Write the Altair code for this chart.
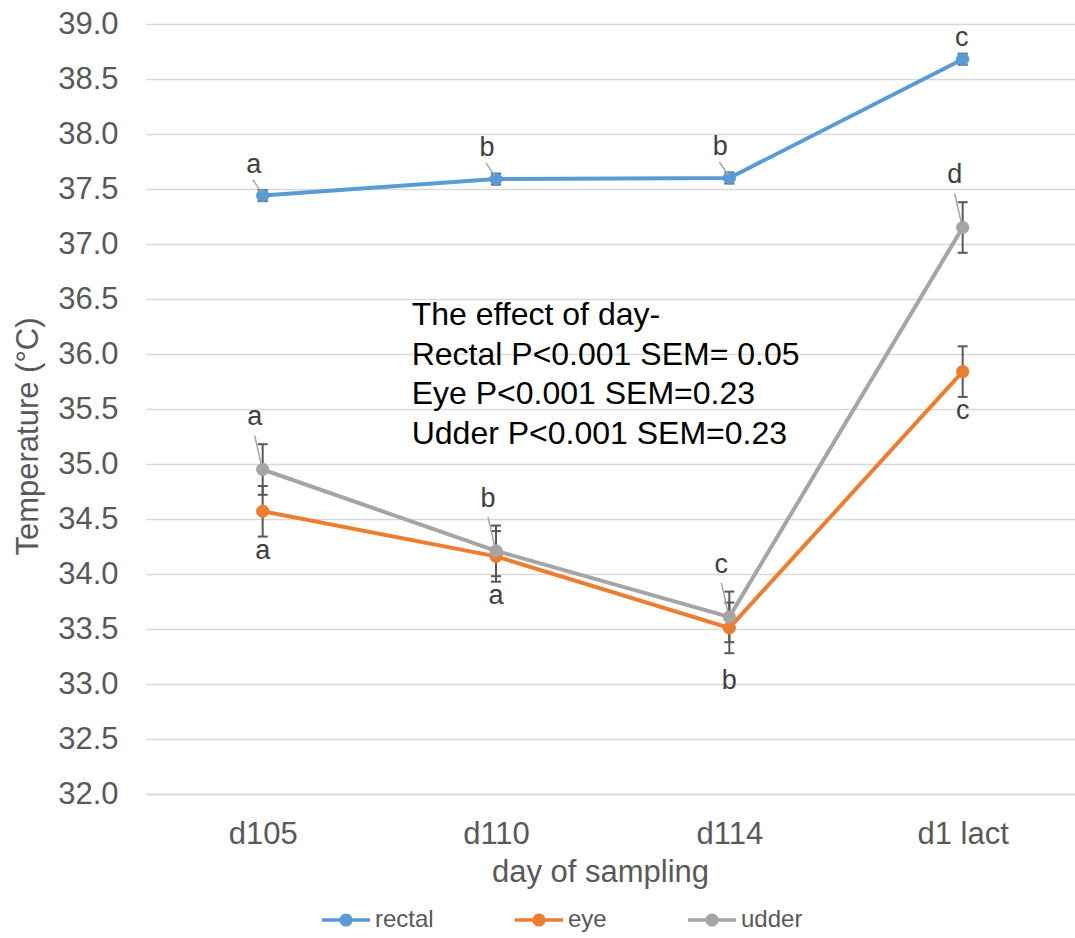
import altair as alt
import pandas as pd

# Sampling days and the three measurement sites
days = ["d105", "d110", "d114", "d1 lact"]
series_names = ["rectal", "eye", "udder"]
series_colors = ["#5B9BD5", "#ED7D31", "#A5A5A5"]

# Mean temperatures (°C)
rectal = [37.44, 37.59, 37.60, 38.68]
eye = [34.57, 34.16, 33.51, 35.84]
udder = [34.95, 34.21, 33.61, 37.15]

# Standard errors of the mean per site
sem_values = {"rectal": 0.05, "eye": 0.23, "udder": 0.23}

# Significance letters per day
rectal_letters = ["a", "b", "b", "c"]
eye_letters = ["a", "a", "b", "c"]
udder_letters = ["a", "b", "c", "d"]

note_lines = [
    "The effect of day-",
    "Rectal P<0.001 SEM= 0.05",
    "Eye P<0.001 SEM=0.23",
    "Udder P<0.001 SEM=0.23",
]

rows = []
for name, vals, letters in [
    ("rectal", rectal, rectal_letters),
    ("eye", eye, eye_letters),
    ("udder", udder, udder_letters),
]:
    for i, (v, letter) in enumerate(zip(vals, letters)):
        s = sem_values[name]
        rows.append({"series": name, "idx": i, "day": days[i], "value": v,
                     "lo": v - s, "hi": v + s, "letter": letter})
df = pd.DataFrame(rows)

GREY_TEXT = "#595959"
FONT = "Liberation Sans"

label_expr = "[" + ",".join(f"'{d}'" for d in days) + "][datum.value]"

x_axis = alt.Axis(values=[0, 1, 2, 3], labelExpr=label_expr, title="day of sampling",
                  grid=False, ticks=False, domain=True, domainColor="#D9D9D9", domainWidth=1.5,
                  labelFontSize=31, labelColor=GREY_TEXT, labelPadding=25, labelFont=FONT,
                  titleFontSize=31, titleColor=GREY_TEXT, titleFontWeight="normal", titleFont=FONT,
                  titleX=454, titleY=87, titleBaseline="alphabetic", titleAnchor="start",
                  titleAlign="center")
y_axis = alt.Axis(values=[32 + 0.5 * k for k in range(15)], format=".1f", title="Temperature (°C)",
                  grid=True, gridColor="#D9D9D9", gridWidth=1.5, ticks=False, domain=False,
                  labelFontSize=31, labelColor=GREY_TEXT, labelPadding=28, labelFont=FONT,
                  titleFontSize=31, titleColor=GREY_TEXT, titleFontWeight="normal", titleFont=FONT,
                  titleAngle=270, titleX=-109, titleY=412, titleBaseline="alphabetic",
                  titleAlign="center")

x_scale = alt.Scale(domain=[-0.5, 3.4814], nice=False, zero=False)
y_scale = alt.Scale(domain=[32, 39], nice=False, zero=False)


def X(field="idx"):
    return alt.X(f"{field}:Q", scale=x_scale, axis=x_axis)


def Y(field):
    return alt.Y(f"{field}:Q", scale=y_scale, axis=y_axis)


# Legend glyph: a short line with a dot in the middle
legend_symbol = "M-1,0L1,0M-0.2,0A0.2,0.2,0,1,1,0.2,0A0.2,0.2,0,1,1,-0.2,0Z"
legend = alt.Legend(title=None, orient="none", direction="horizontal", legendX=174, legendY=870,
                    symbolType=legend_symbol, symbolSize=2304, symbolStrokeWidth=3.5,
                    labelFontSize=24, labelColor=GREY_TEXT, labelFont=FONT, labelOffset=3,
                    columnPadding=74, padding=0)
stroke_enc = alt.Stroke("series:N", scale=alt.Scale(domain=series_names, range=series_colors),
                        legend=legend)
fill_enc = alt.Fill("series:N", scale=alt.Scale(domain=series_names, range=series_colors),
                    legend=legend)

base = alt.Chart(df)

# Error bars (SEM) with caps
err_bar = base.mark_rule(color="#595959", strokeWidth=2).encode(x=X(), y=Y("lo"), y2="hi")
cap_hi = base.mark_rule(color="#595959", strokeWidth=2, xOffset=-5, x2Offset=5).encode(
    x=X(), x2="idx:Q", y=Y("hi"))
cap_lo = base.mark_rule(color="#595959", strokeWidth=2, xOffset=-5, x2Offset=5).encode(
    x=X(), x2="idx:Q", y=Y("lo"))

lines = base.mark_line(strokeWidth=4).encode(x=X(), y=Y("value"), stroke=stroke_enc,
                                             detail="series:N")
points = base.mark_point(filled=True, size=150, strokeWidth=1, opacity=1, shape="circle").encode(
    x=X(), y=Y("value"), fill=fill_enc, stroke=stroke_enc)

# Leader lines from letters to points
lead_rectal = base.transform_filter("datum.series == 'rectal' && datum.idx < 3").mark_rule(
    color="#A6A6A6", strokeWidth=1.5, xOffset=-10, yOffset=-16, x2Offset=-1, y2Offset=-3
).encode(x=X(), x2="idx:Q", y=Y("value"), y2="value:Q")
lead_udder = base.transform_filter("datum.series == 'udder'").mark_rule(
    color="#A6A6A6", strokeWidth=1.5, xOffset=-8, yOffset=-34, x2Offset=-1, y2Offset=-3
).encode(x=X(), x2="idx:Q", y=Y("value"), y2="value:Q")

letter_style = dict(fontSize=27, font=FONT, color="#404040", baseline="middle", align="center")
lab_rectal = base.transform_filter("datum.series == 'rectal' && datum.idx < 3").mark_text(
    dx=-9, dy=-31, **letter_style).encode(x=X(), y=Y("value"), text="letter:N")
lab_rectal_last = base.transform_filter("datum.series == 'rectal' && datum.idx == 3").mark_text(
    dx=-1, dy=-21, **letter_style).encode(x=X(), y=Y("value"), text="letter:N")
lab_udder = base.transform_filter("datum.series == 'udder'").mark_text(
    dx=-8, dy=-27, **letter_style).encode(x=X(), y=Y("hi"), text="letter:N")
lab_eye = base.transform_filter("datum.series == 'eye' && datum.idx != 2").mark_text(
    dx=0, dy=14, **letter_style).encode(x=X(), y=Y("lo"), text="letter:N")
lab_eye_mid = base.transform_filter("datum.series == 'eye' && datum.idx == 2").mark_text(
    dx=0, dy=28, **letter_style).encode(x=X(), y=Y("lo"), text="letter:N")

note = alt.Chart(pd.DataFrame({"x": [0.6387], "y": [36.488]})).mark_text(
    text=note_lines, align="left", baseline="top", fontSize=32, font=FONT, color="#000000",
    lineHeight=39.5
).encode(x=X("x"), y=Y("y"))

chart = alt.layer(
    err_bar, cap_hi, cap_lo, lines, points, lead_rectal, lead_udder,
    lab_rectal, lab_rectal_last, lab_udder, lab_eye, lab_eye_mid, note
).properties(
    width=929, height=770,
    autosize=alt.AutoSizeParams(type="none"),
    padding={"left": 146, "top": 24, "right": 0, "bottom": 144},
    background="white",
).configure_view(stroke=None)

chart.save("out.html", embed_options={"renderer": "svg", "actions": False})
